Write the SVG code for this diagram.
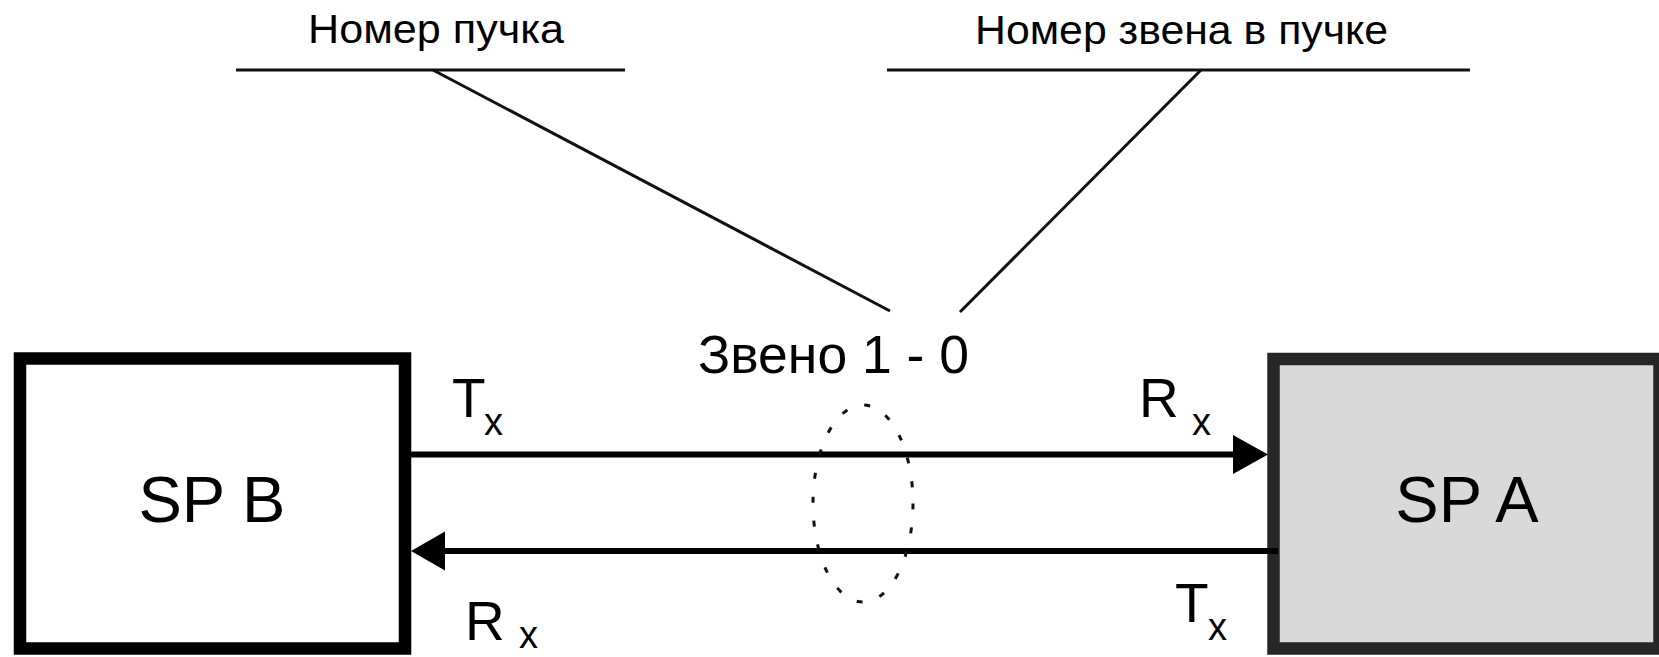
<svg xmlns="http://www.w3.org/2000/svg" width="1659" height="657" viewBox="0 0 1659 657">
<style>
text { font-family: "Liberation Sans", Arial, sans-serif; fill: #000; }
.lead { stroke: #111; stroke-width: 3; fill: none; }
.link { stroke: #000; stroke-width: 6; fill: none; }
.head { fill: #000; stroke: none; }
.lbl { font-size: 55px; }
.sub { font-size: 38px; }
.node { font-size: 65px; text-anchor: middle; }
.top { font-size: 40px; }
</style>
<rect width="1659" height="657" fill="#fff"/>
<g id="node-spb">
  <rect x="20" y="358.5" width="385" height="290" fill="#fff" stroke="#000" stroke-width="12.5"/>
  <text class="node" x="212" y="522">SP B</text>
</g>
<g id="node-spa">
  <rect x="1273.5" y="359" width="386" height="289.5" fill="#d9d9d9" stroke="#262626" stroke-width="12.5"/>
  <text class="node" x="1467" y="522">SP A</text>
</g>
<g id="connectors">
  <line class="link" x1="411" y1="454.5" x2="1236" y2="454.5"/>
  <polygon class="head" points="1268,454.5 1233,435 1233,474"/>
  <line class="link" x1="1278" y1="551" x2="442" y2="551"/>
  <polygon class="head" points="411,551 445,531.5 445,570.5"/>
  <ellipse cx="863" cy="503.5" rx="50" ry="98.5" fill="none" stroke="#111" stroke-width="3" stroke-dasharray="6 18"/>
  <polyline class="lead" points="236,70 625,70"/>
  <polyline class="lead" points="433,70 890,311"/>
  <polyline class="lead" points="887,70 1470,70"/>
  <polyline class="lead" points="1201,70 960,312"/>
</g>
<g id="labels">
  <text class="top" x="308" y="43" textLength="256" lengthAdjust="spacingAndGlyphs">Номер пучка</text>
  <text class="top" x="975" y="44" textLength="413" lengthAdjust="spacingAndGlyphs">Номер звена в пучке</text>
  <text x="698" y="373" font-size="53" textLength="271" lengthAdjust="spacingAndGlyphs">Звено 1 - 0</text>
  <text class="lbl" x="452" y="417">T</text>
  <text class="sub" x="484" y="435">x</text>
  <text class="lbl" x="1139" y="417">R</text>
  <text class="sub" x="1192" y="435">x</text>
  <text class="lbl" x="465" y="640">R</text>
  <text class="sub" x="519" y="648">x</text>
  <text class="lbl" x="1175" y="622">T</text>
  <text class="sub" x="1208" y="640">x</text>
</g>
</svg>
